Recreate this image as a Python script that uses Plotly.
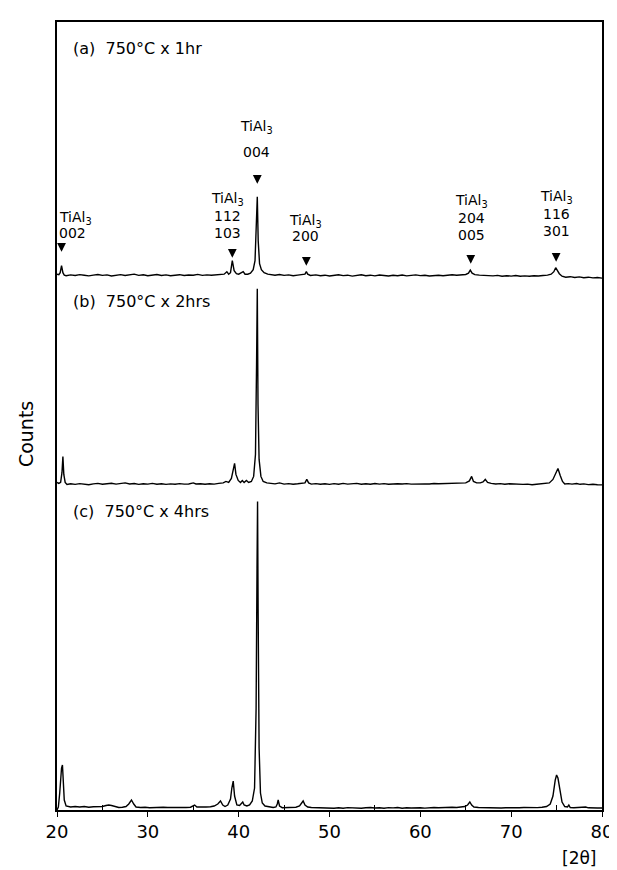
import plotly.graph_objects as go

# ---------------- data (2θ in degrees, intensity in arbitrary counts above each pattern's baseline) -------------
a_x = [20.0, 20.2, 20.35, 20.5, 20.65, 20.8, 21.0, 21.5, 22.0, 22.5, 23.0, 23.5, 24.0, 24.5, 25.0, 25.5, 26.0,
       26.5, 27.0, 27.5, 28.0, 28.5, 29.0, 29.5, 30.0, 30.5, 31.0, 31.5, 32.0, 32.5, 33.0, 33.5, 34.0, 34.5,
       35.0, 35.5, 36.0, 36.5, 37.0, 37.5, 38.0, 38.4, 38.7, 38.9, 39.1, 39.3, 39.5, 39.75, 40.0, 40.3, 40.5,
       40.7, 41.0, 41.3, 41.6, 41.8, 41.95, 42.05, 42.15, 42.3, 42.5, 42.8, 43.2, 43.6, 44.0, 44.5, 45.0, 45.5,
       46.0, 46.5, 47.0, 47.3, 47.45, 47.6, 47.9, 48.5, 49.0, 49.5, 50.0, 50.5, 51.0, 51.5, 52.0, 52.5, 53.0,
       53.5, 54.0, 54.5, 55.0, 55.5, 56.0, 56.5, 57.0, 57.5, 58.0, 58.5, 59.0, 59.5, 60.0, 60.5, 61.0, 61.5,
       62.0, 62.5, 63.0, 63.5, 64.0, 64.5, 65.0, 65.3, 65.5, 65.7, 66.0, 66.5, 67.0, 67.5, 68.0, 68.5, 69.0,
       69.5, 70.0, 70.5, 71.0, 71.5, 72.0, 72.5, 73.0, 73.5, 74.0, 74.4, 74.7, 74.9, 75.05, 75.3, 75.6, 76.0,
       76.5, 77.0, 77.5, 78.0, 78.5, 79.0, 79.5, 80.0]
a_y = [1.5, 1, 3, 10, 3, 0.5, 0, 0.8, 0.2, 1, 0.4, -0.2, 0.6, 1.2, 0.3, 0.8, -0.3,
       0.4, 1, 0.2, 0.7, 1.5, 0.3, 0.9, 0, 0.6, 1.1, 0.2, 0.8, 0, 0.5, 1, 0.2, 0.7,
       0.4, 1.3, 0.3, 0.8, 0.5, 1, 0.8, 1.5, 4, 1.5, 3, 15, 5, 2, 1.5, 3.5, 4,
       1.5, 1.5, 2.5, 6, 15, 50, 79, 35, 12, 6, 3, 1.5, 1, 0.5, 1.2, 0.3, 0.8,
       0, 0.6, 0.8, 1.5, 4, 1.5, 0.2, 0.8, 0, 0.5, -0.3, 0.4, 0.9, 0.1, 0.5, -0.4, 0.3,
       0.9, 0, 0.5, -0.2, 0.6, 0.2, -0.3, 0.4, 0, 0.6, -0.2, 0.3, 0.8, 0.1, 0.4, -0.3, 0.2,
       0.5, 0, 0.4, 0.9, 0.5, 0.8, 1.2, 2.5, 5.5, 2.5, 1, 0.6, 0.2, 0.5, -0.2, 0.3, -0.5,
       0, -0.4, 0.2, -0.6, -0.2, -0.5, 0, -0.3, 0.2, 0.5, 1.5, 4, 8, 6, 2, -0.5, -1.5,
       -1, -1.8, -1.2, -2, -1.5, -2.2, -1.8, -2.5]

b_x = [20.0, 20.2, 20.4, 20.55, 20.65, 20.75, 20.9, 21.1, 21.5, 22.0, 22.5, 23.0, 23.5, 24.0, 24.5, 25.0,
       25.5, 26.0, 26.5, 27.0, 27.5, 28.0, 28.5, 29.0, 29.5, 30.0, 30.5, 31.0, 31.5, 32.0, 32.5, 33.0,
       33.5, 34.0, 34.5, 35.0, 35.3, 35.8, 36.3, 36.8, 37.3, 37.8, 38.3, 38.6, 38.9, 39.2, 39.4, 39.55,
       39.7, 39.95, 40.2, 40.4, 40.6, 40.85, 41.1, 41.4, 41.65, 41.85, 41.97, 42.05, 42.13, 42.25, 42.45,
       42.7, 43.1, 43.5, 44.0, 44.5, 45.0, 45.5, 46.0, 46.5, 47.0, 47.3, 47.5, 47.7, 48.0, 48.5, 49.0,
       49.5, 50.0, 50.5, 51.0, 51.5, 52.0, 52.5, 53.0, 53.5, 54.0, 54.5, 55.0, 55.5, 56.0, 56.5, 57.0,
       57.5, 58.0, 58.5, 59.0, 59.5, 60.0, 60.5, 61.0, 61.5, 62.0, 62.5, 63.0, 63.5, 64.0, 64.5, 65.0,
       65.4, 65.65, 65.85, 66.2, 66.6, 66.9, 67.15, 67.4, 67.8, 68.3, 68.8, 69.3, 69.8, 70.3, 70.8, 71.3,
       71.8, 72.3, 72.8, 73.3, 73.8, 74.2, 74.6, 74.9, 75.15, 75.4, 75.65, 75.9, 76.3, 76.7, 77.2, 77.6,
       78.0, 78.5, 79.0, 79.5, 80.0]
b_y = [2, 1, 2, 12, 28, 10, 2, 0, 0.6, 0, 0.8, 0.2, -0.3, 0.5, 1, 0.2,
       0.5, 1.2, 0.3, 0.8, 1.5, 0.4, 0.9, 0, 0.6, 0.3, 1, 0.2, 0.6, 0, 0.5, 0.2,
       0.8, 0.3, 0.4, 1.5, 0.4, 0.7, 0.2, 0.6, 0.3, 1, 1.5, 3, 2, 6, 14, 21,
       10, 4, 2, 4, 2, 4, 2, 3, 8, 30, 120, 196, 80, 25, 8,
       3, 1.5, 1, 0.5, 1.5, 0.3, 0.8, 0.2, 0.6, 0.8, 1.5, 5, 1.5, 0.3, 0.8, 0.2,
       0.7, 0, 0.8, 0.2, 1, 0.3, 0.5, 1, 0.2, 0.6, 0.1, 0.9, 0.3, 0.8, 0.1, 0.5,
       0.6, 0.4, 0.8, 0.3, 0.6, 0.2, 0.5, 0.4, 0.9, 0.6, 0.7, 0.8, 0.6, 0.6, 0.9, 1.5,
       3.5, 8, 3, 1.5, 1.5, 2.5, 5, 2, 1, 0.4, 0.8, 0.2, 0.6, 0.2, 0.5, 0,
       0.3, -0.3, 0.2, 0.5, 0.8, 1.5, 5, 11, 16, 9, 3, 0.5, 0.8, 0.3, 0.9, 0.1,
       0.5, -0.2, 0.2, -0.3, -0.5]

c_x = [20.0, 20.15, 20.3, 20.4, 20.5, 20.6, 20.7, 20.8, 21.0, 21.5, 22.0, 22.5, 23.0, 23.5, 24.0, 24.5,
       25.0, 25.4, 25.7, 26.0, 26.4, 26.8, 27.2, 27.6, 27.9, 28.2, 28.45, 28.7, 29.2, 29.7, 30.2, 30.7,
       31.2, 31.7, 32.2, 32.7, 33.2, 33.7, 34.2, 34.7, 35.0, 35.15, 35.4, 35.9, 36.4, 36.9, 37.3, 37.7,
       38.0, 38.25, 38.5, 38.8, 39.1, 39.25, 39.4, 39.55, 39.8, 40.1, 40.3, 40.45, 40.6, 40.9, 41.2, 41.5,
       41.75, 41.92, 42.02, 42.08, 42.14, 42.25, 42.4, 42.6, 42.9, 43.3, 43.8, 44.1, 44.25, 44.35, 44.5,
       44.8, 45.3, 45.8, 46.3, 46.7, 46.95, 47.1, 47.3, 47.6, 48.0, 48.5, 49.0, 49.5, 50.0, 50.5, 51.0,
       51.5, 52.0, 52.5, 53.0, 53.5, 54.0, 54.5, 55.0, 55.5, 56.0, 56.5, 57.0, 57.5, 58.0, 58.5, 59.0,
       59.5, 60.0, 60.5, 61.0, 61.5, 62.0, 62.5, 63.0, 63.5, 64.0, 64.5, 64.9, 65.2, 65.45, 65.65, 65.9,
       66.4, 66.9, 67.4, 67.9, 68.4, 68.9, 69.4, 69.9, 70.4, 70.9, 71.4, 71.9, 72.4, 72.9, 73.4, 73.9,
       74.3, 74.6, 74.85, 75.0, 75.15, 75.35, 75.6, 75.9, 76.2, 76.35, 76.5, 76.9, 77.4, 77.9, 78.2, 78.5,
       79.0, 79.5, 80.0]
c_y = [-2, 1, 15, 35, 40, 43, 30, 8, 2, 1, 1.5, 1, 1.5, 0.8, 1.2, 1,
       1.5, 2.5, 3, 2.5, 1.5, 0.5, 0.8, 1.5, 4, 8, 4, 1, 0.5, 0.8, 0.3, 0.6,
       0.5, 0.8, 0.5, 0.4, 0.7, 0.6, 0.5, 0.8, 2.5, 3, 1, 0.8, 1, 1.2, 2, 4,
       7, 3, 1.5, 3, 9, 20, 27, 12, 3, 2.5, 4, 6, 3, 2, 3, 7,
       20, 100, 240, 307, 200, 60, 15, 5, 2, 1, 0.5, 1, 4, 8, 2,
       0.3, 0.5, 0.4, 0.8, 2, 5, 7, 3, 1, 0.5, 0.3, 0.4, 0, 0.3, -0.3, 0.2,
       -0.2, 0.4, 0, 0.3, -0.3, 0.2, 0.5, 0, 0.3, -0.2, 0.4, 0.1, 0.5, -0.2, 0.3, 0,
       0.4, 0.2, -0.1, 0.3, 0.5, 0.2, 0.6, 0.4, 0.7, 0.5, 0.8, 1.5, 3, 6, 3, 1,
       0.5, 0.3, 0.5, 0.2, 0.4, 0, 0.3, 0.1, 0.4, 0.2, 0.5, 0.3, 0.6, 0.4, 0.8, 1.5,
       4, 12, 28, 33, 30, 18, 6, 1.5, 1, 3, 0.5, 0.3, 0.5, 0.2, 1, 0.2,
       0.4, 0, 0]

pattern_names = ["(a)  750°C x 1hr", "(b)  750°C x 2hrs", "(c)  750°C x 4hrs"]

# reflection labels: 2θ of marker, hkl lines
peak_x = [20.5, 39.3, 42.05, 47.45, 65.55, 74.95]
peak_hkl = [["002"], ["112", "103"], ["004"], ["200"], ["204", "005"], ["116", "301"]]

x_ticks = [20, 30, 40, 50, 60, 70, 80]

# ---------------- layout constants (vertical stacking, label positions) ----------------
offsets = [535, 326, 2]            # baseline of (a), (b), (c)
name_y = [762, 509, 299]
marker_tip_y = [559, 553, 627, 545, 547, 549]
text_top_y = [593, 612, 684, 590, 610, 614]   # y of "TiAl3" line
line_steps = [[15], [17, 17], [25], [15], [17, 17], [17, 17]]
text_x = [20.05, 38.8, 42.0, 47.35, 65.6, 75.0]
text_anchor = ["left", "center", "center", "center", "center", "center"]

FONT = "DejaVu Sans"
fig = go.Figure()

for xs, ys, off, nm in zip([a_x, b_x, c_x], [a_y, b_y, c_y], offsets, pattern_names):
    fig.add_trace(go.Scatter(x=xs, y=[v + off for v in ys], mode="lines",
                             line=dict(color="black", width=1.4), name=nm, showlegend=False))

ann = []
for nm, yy in zip(pattern_names, name_y):
    ann.append(dict(x=21.5, y=yy, xref="x", yref="y", text=nm, showarrow=False,
                    xanchor="left", yanchor="middle", font=dict(family=FONT, size=16, color="black")))

for i in range(len(peak_x)):
    # small downward wedge marking the reflection
    ann.append(dict(x=peak_x[i], y=marker_tip_y[i], xref="x", yref="y", text="", showarrow=True,
                    ax=0, ay=-9, arrowhead=2, arrowsize=1.1, arrowwidth=1.6, arrowcolor="black",
                    standoff=0))
    y0 = text_top_y[i]
    ann.append(dict(x=text_x[i], y=y0, xref="x", yref="y", text="TiAl<sub>3</sub>", showarrow=False,
                    xanchor=text_anchor[i], yanchor="middle", font=dict(family=FONT, size=14, color="black")))
    yy = y0
    for hkl, st in zip(peak_hkl[i], line_steps[i]):
        yy -= st
        ann.append(dict(x=text_x[i], y=yy, xref="x", yref="y", text=hkl, showarrow=False,
                        xanchor=text_anchor[i], yanchor="middle",
                        font=dict(family=FONT, size=14, color="black")))

ann.append(dict(x=-0.057, y=0.477, xref="paper", yref="paper", text="Counts", textangle=-90,
                showarrow=False, xanchor="center", yanchor="middle",
                font=dict(family=FONT, size=19, color="black")))
ann.append(dict(x=0.957, y=-0.061, xref="paper", yref="paper", text="[2θ]", showarrow=False,
                xanchor="center", yanchor="middle", font=dict(family=FONT, size=17, color="black")))

fig.update_layout(
    width=617, height=870,
    margin=dict(l=49, r=12, t=13, b=68),
    paper_bgcolor="white", plot_bgcolor="white",
    annotations=ann,
    xaxis=dict(range=[20, 80], tickvals=x_ticks, ticktext=[str(t) for t in x_ticks],
               ticks="outside", ticklen=5, tickwidth=1.3, tickcolor="black",
               showline=True, linecolor="black", linewidth=1.5, mirror=True,
               showgrid=False, zeroline=False,
               tickfont=dict(family=FONT, size=18, color="black"),
               minor=dict(tickvals=[25, 35, 45, 55, 65, 75], ticks="inside", ticklen=5,
                          tickwidth=1.1, tickcolor="black", showgrid=False)),
    yaxis=dict(range=[0, 789], showticklabels=False, ticks="",
               showline=True, linecolor="black", linewidth=1.5, mirror=True,
               showgrid=False, zeroline=False),
)

fig.write_html("out.html")
